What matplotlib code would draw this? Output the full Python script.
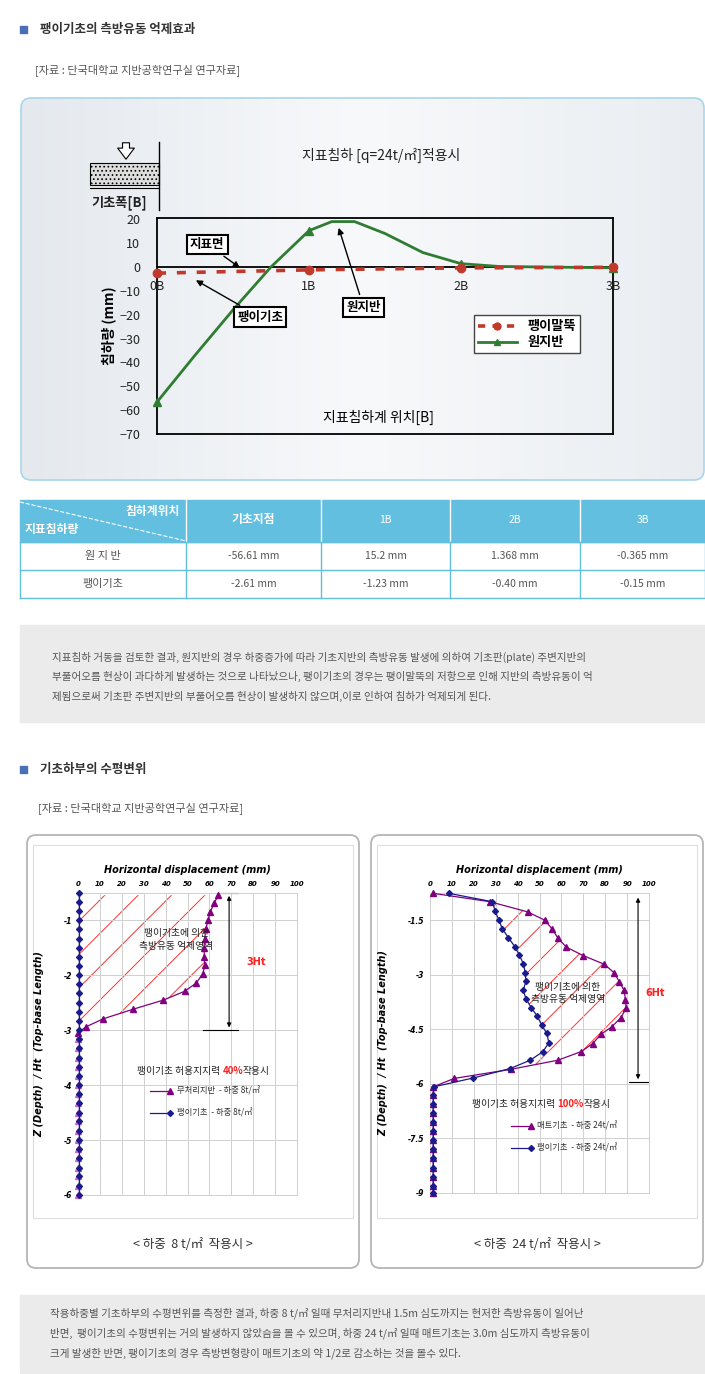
import numpy as np
import matplotlib
matplotlib.use("Agg")
import matplotlib.pyplot as plt
from matplotlib.patches import FancyBboxPatch, Rectangle
from matplotlib.lines import Line2D

plt.rcParams['font.family'] = ['Noto Sans CJK KR', 'DejaVu Sans']
plt.rcParams['hatch.color'] = '#ff3030'
plt.rcParams['hatch.linewidth'] = 0.7

W, H = 705, 1374

# ---------------- data ----------------
top_x_pos = [0, 1, 2, 3]
top_x_labels = ['0B', '1B', '2B', '3B']
orig_curve_x = [0, 0.25, 0.5, 0.75, 1.0, 1.15, 1.3, 1.5, 1.75, 2.0, 2.25, 2.5, 3.0]
orig_curve_y = [-56.61, -37, -18, 0, 15.2, 19, 19, 14, 6, 1.368, 0.2, 0, -0.365]
orig_mark_y = [-56.61, 15.2, 1.368, -0.365]
pile_y = [-2.61, -1.23, -0.40, -0.15]

table_cols = ['기초지점', '1B', '2B', '3B']
table_rows = ['원 지 반', '팽이기초']
table_vals = [['-56.61 mm', '15.2 mm', '1.368 mm', '-0.365 mm'],
              ['-2.61 mm', '-1.23 mm', '-0.40 mm', '-0.15 mm']]

# left lower chart (8 t/m2)
L_untr_x = [64, 62.3, 60.3, 59.4, 58.3, 57.9, 57.5, 57.7, 57.9, 57, 54, 48.7, 39, 24.9, 11.6, 3.5, 0]
L_untr_y = [-0.54, -0.68, -0.85, -1.0, -1.16, -1.33, -1.5, -1.66, -1.82, -1.97, -2.14, -2.29, -2.45, -2.62, -2.79, -2.94, -3.05]
L_deep_y = [-3.16, -3.33, -3.5, -3.66, -3.83, -4.0, -4.16, -4.33, -4.5, -4.66, -4.83, -5.0, -5.16, -5.33, -5.5, -5.66, -5.83, -6.0]
L_pile_y = [-0.5, -0.66, -0.83, -1.0, -1.16, -1.33, -1.5, -1.66, -1.83, -2.0, -2.16, -2.33, -2.5, -2.66, -2.83,
            -3.0, -3.16, -3.33, -3.5, -3.66, -3.83, -4.0, -4.16, -4.33, -4.5, -4.66, -4.83, -5.0, -5.16, -5.33,
            -5.5, -5.66, -5.83, -6.0]
L_pile_x = [0.3] * len(L_pile_y)

# right lower chart (24 t/m2)
R_mat_x = [1.5, 27.4, 44.6, 52.5, 55.9, 58.4, 62.3, 69.9, 79.6, 84.2, 86.5, 88.7, 89.2, 89.6, 87.1, 83, 78.2,
           74.3, 69.1, 58.3, 36.8, 11, 1.5, 1.5, 1.5, 1.5, 1.5, 1.5, 1.5, 1.5, 1.5, 1.5, 1.5, 1.5, 1.5]
R_mat_y = [-0.76, -0.99, -1.27, -1.5, -1.75, -1.99, -2.24, -2.47, -2.71, -2.95, -3.2, -3.43, -3.68, -3.92, -4.18,
           -4.43, -4.63, -4.89, -5.11, -5.35, -5.6, -5.85, -6.08, -6.3, -6.55, -6.8, -7.05, -7.3, -7.55, -7.8,
           -8.05, -8.3, -8.55, -8.8, -9.0]
R_pile_x = [8.7, 28.5, 29.7, 31.5, 33, 35.8, 38.8, 40.8, 42.6, 43.5, 43.8, 42.6, 43.8, 46.3, 49, 51, 53.3, 54.3,
            51.4, 45.7, 36.5, 19.5, 1.8, 1.5, 1.5, 1.5, 1.5, 1.5, 1.5, 1.5, 1.5, 1.5, 1.5, 1.5, 1.5]
R_pile_y = [-0.76, -0.99, -1.24, -1.5, -1.73, -1.98, -2.23, -2.46, -2.69, -2.94, -3.18, -3.42, -3.66, -3.91, -4.14,
            -4.38, -4.61, -4.87, -5.12, -5.35, -5.58, -5.84, -6.08, -6.3, -6.55, -6.8, -7.05, -7.3, -7.55, -7.8,
            -8.05, -8.3, -8.55, -8.8, -9.0]

fig = plt.figure(figsize=(W / 100, H / 100), dpi=100)
fig.patch.set_facecolor('white')


def px(x, y, w, h):
    return [x / W, 1 - (y + h) / H, w / W, h / H]


bg = fig.add_axes([0, 0, 1, 1])
bg.set_xlim(0, W)
bg.set_ylim(H, 0)
bg.axis('off')

TXT = '#555555'


def header(y, text):
    bg.add_patch(Rectangle((20, y - 4), 7, 7, color='#4a6fb5'))
    bg.text(40, y, text, fontsize=9, color='#333333', va='center', fontweight='bold')


header(30, '팽이기초의 측방유동 억제효과')
bg.text(35, 70, '[자료 : 단국대학교 지반공학연구실 연구자료]', fontsize=8, color=TXT, va='center')
header(770, '기초하부의 수평변위')
bg.text(38, 808, '[자료 : 단국대학교 지반공학연구실 연구자료]', fontsize=8, color=TXT, va='center')

# top rounded panel with gradient
panel = FancyBboxPatch((21, 98), 683, 382, boxstyle='round,pad=0,rounding_size=10',
                       facecolor='none', edgecolor='#a9d6ea', lw=1.2, zorder=2)
bg.add_patch(panel)
grad = np.linspace(0, 1, 256).reshape(1, -1)
im = bg.imshow(np.vstack([grad, grad]), extent=[21, 704, 480, 98], aspect='auto',
               cmap=matplotlib.colors.LinearSegmentedColormap.from_list('g', ['#e4e9ee', '#f8f9fb', '#e9edf1']),
               zorder=1)
im.set_clip_path(panel)

# footing sketch
bg.add_patch(Rectangle((90, 163), 69, 22, facecolor='#dddddd', edgecolor='black', lw=0.8, hatch='....', zorder=3))
bg.plot([159, 159], [142, 210], color='black', lw=1, zorder=3)
bg.plot([90, 159], [188, 188], color='black', lw=0.8, zorder=3)
bg.annotate('', xy=(126, 162), xytext=(126, 140), zorder=3,
            arrowprops=dict(arrowstyle='simple,head_width=1.2,head_length=0.8,tail_width=0.5',
                            fc='white', ec='black', lw=0.8))
bg.text(91, 203, '기초폭[B]', fontsize=9.5, fontweight='bold', va='center', zorder=3, color='#222222')
bg.text(381, 155, '지표침하 [q=24t/㎡]적용시', fontsize=10, ha='center', va='center', zorder=3, color='#222222')

# top chart
ax = fig.add_axes(px(157, 218, 456, 216))
ax.set_zorder(3)
ax.set_facecolor('none')
ax.set_xlim(0, 3)
ax.set_ylim(-70, 20.5)
ax.set_yticks(range(-70, 21, 10))
ax.set_yticklabels([str(v).replace('-', '−') for v in range(-70, 21, 10)], fontsize=9, color='#222222')
ax.tick_params(axis='y', length=0, pad=12)
ax.set_xticks([])
for s in ax.spines.values():
    s.set_linewidth(1.3)
ax.axhline(0, color='black', lw=1.3, zorder=1)
ax.plot(orig_curve_x, orig_curve_y, color='#2f7d32', lw=2, zorder=2)
ax.plot(top_x_pos, orig_mark_y, ls='none', marker='^', color='#2f7d32', ms=6, zorder=3, clip_on=False)
ax.plot(top_x_pos, pile_y, color='#c0392b', ls=(0, (2.5, 3)), lw=2.6, marker='o', ms=6, zorder=4, clip_on=False)
for xp, lab in zip(top_x_pos, top_x_labels):
    ax.text(xp, -5.5, lab, ha='center', va='top', fontsize=9, color='#222222')
ax.set_ylabel('침하량 (mm)', fontsize=10, fontweight='bold', labelpad=2)
ax.text(1.46, -63, '지표침하계 위치[B]', fontsize=10, ha='center', va='center')
bbox = dict(boxstyle='square,pad=0.25', fc='white', ec='black', lw=1.5)
ax.annotate('지표면', xy=(0.56, -1), xytext=(0.33, 9.5), fontsize=9, fontweight='bold', ha='center', va='center',
            bbox=bbox, arrowprops=dict(arrowstyle='-|>', color='black', lw=1))
ax.annotate('팽이기초', xy=(0.24, -5), xytext=(0.68, -21), fontsize=9, fontweight='bold', ha='center', va='center',
            bbox=bbox, arrowprops=dict(arrowstyle='-|>', color='black', lw=1))
ax.annotate('원지반', xy=(1.19, 17.5), xytext=(1.36, -17), fontsize=9, fontweight='bold', ha='center', va='center',
            bbox=bbox, arrowprops=dict(arrowstyle='-|>', color='black', lw=1))
handles = [Line2D([], [], color='#c0392b', ls=(0, (2, 2)), lw=2.6, marker='o', ms=5),
           Line2D([], [], color='#2f7d32', lw=2, marker='^', ms=5)]
ax.legend(handles, ['팽이말뚝', '원지반'], loc='upper left', bbox_to_anchor=(0.68, 0.58),
          fancybox=False, edgecolor='#444444', framealpha=1, prop=dict(size=9.5, weight='bold'),
          handlelength=3, borderpad=0.3, labelspacing=0.15)

# table
cols_x = [20, 186, 321, 450, 580, 705]
bg.add_patch(Rectangle((20, 500), 685, 42, color='#62bfe0', zorder=2))
for cx in cols_x[1:-1]:
    bg.plot([cx, cx], [500, 542], color='white', lw=1, zorder=3)
    bg.plot([cx, cx], [542, 598], color='#62bfe0', lw=1, zorder=3)
for yy in [542, 570, 598]:
    bg.plot([20, 705], [yy, yy], color='#62bfe0', lw=1, zorder=3)
bg.plot([20, 20], [542, 598], color='#62bfe0', lw=1, zorder=3)
bg.plot([704.5, 704.5], [542, 598], color='#62bfe0', lw=1, zorder=3)
bg.plot([20, 186], [502, 541], color='white', lw=0.8, ls='--', zorder=3)
bg.text(180, 511, '침하계위치', color='white', fontsize=8.5, fontweight='bold', ha='right', va='center', zorder=4)
bg.text(25, 530, '지표침하량', color='white', fontsize=8.5, fontweight='bold', ha='left', va='center', zorder=4)
for i, c in enumerate(table_cols):
    cx = (cols_x[i + 1] + cols_x[i + 2]) / 2
    bg.text(cx, 520, c, color='white', fontsize=8.5 if i == 0 else 7.5, fontweight='bold' if i == 0 else 'normal',
            ha='center', va='center', zorder=4)
for r, (rn, vals) in enumerate(zip(table_rows, table_vals)):
    cy = 556 + 28 * r
    bg.text(103, cy, rn, color=TXT, fontsize=8, ha='center', va='center', zorder=4)
    for i, v in enumerate(vals):
        cx = (cols_x[i + 1] + cols_x[i + 2]) / 2
        bg.text(cx, cy, v, color=TXT, fontsize=7.5, ha='center', va='center', zorder=4)

# grey text boxes
bg.add_patch(Rectangle((20, 625), 685, 97, color='#ebebeb', zorder=1))
lines1 = ['지표침하 거동을 검토한 결과, 원지반의 경우 하중증가에 따라 기초지반의 측방유동 발생에 의하여 기초판(plate) 주변지반의',
          '부풀어오름 현상이 과다하게 발생하는 것으로 나타났으나, 팽이기초의 경우는 팽이말뚝의 저항으로 인해 지반의 측방유동이 억',
          '제됨으로써 기초판 주변지반의 부풀어오름 현상이 발생하지 않으며,이로 인하여 침하가 억제되게 된다.']
for i, t in enumerate(lines1):
    bg.text(52, 657 + 19.5 * i, t, fontsize=7.6, color=TXT, va='center', zorder=2)
bg.add_patch(Rectangle((20, 1295), 685, 78, color='#ebebeb', zorder=1))
lines2 = ['작용하중별 기초하부의 수평변위를 측정한 결과, 하중 8 t/㎡ 일때 무처리지반내 1.5m 심도까지는 현저한 측방유동이 일어난',
          '반면,  팽이기초의 수평변위는 거의 발생하지 않았슴을 볼 수 있으며, 하중 24 t/㎡ 일때 매트기초는 3.0m 심도까지 측방유동이',
          '크게 발생한 반면, 팽이기초의 경우 측방변형량이 매트기초의 약 1/2로 감소하는 것을 볼수 있다.']
for i, t in enumerate(lines2):
    bg.text(50, 1313 + 20 * i, t, fontsize=7.6, color=TXT, va='center', zorder=2)

# lower panels
for x0, cap in [(27, '< 하중  8 t/㎡  작용시 >'), (371, '< 하중  24 t/㎡  작용시 >')]:
    bg.add_patch(FancyBboxPatch((x0, 835), 332, 433, boxstyle='round,pad=0,rounding_size=9',
                                facecolor='white', edgecolor='#b5b5b5', lw=1.3, zorder=1))
    bg.text(x0 + 166, 1244, cap, fontsize=9, ha='center', va='center', color='#333333', zorder=2)
    bg.add_patch(Rectangle((x0 + 6, 845), 320, 373, facecolor='white', edgecolor='#dddddd', lw=0.8, zorder=1.5))

PUR = '#800080'
BLU = '#1a1a8c'


def lower_axes(rect, ylim, yticks, ytl):
    a = fig.add_axes(px(*rect))
    a.set_zorder(3)
    a.set_xlim(0, 100)
    a.set_ylim(*ylim)
    a.xaxis.tick_top()
    a.set_xticks(range(0, 101, 10))
    a.set_xticklabels([str(v) for v in range(0, 101, 10)], fontsize=5, fontweight='bold', fontstyle='italic',
                      family='DejaVu Sans')
    a.set_yticks(yticks)
    a.set_yticklabels(ytl, fontsize=5.5, fontweight='bold', fontstyle='italic', family='DejaVu Sans')
    a.tick_params(length=0, pad=4)
    a.grid(True, color='#d0d0d0', lw=0.7)
    for s in a.spines.values():
        s.set_color('#d0d0d0')
        s.set_linewidth(0.7)
    a.set_xlabel('Horizontal displacement (mm)', fontsize=7, fontweight='bold', fontstyle='italic',
                 family='DejaVu Sans', labelpad=6)
    a.xaxis.set_label_position('top')
    a.set_ylabel('Z (Depth)  / Ht  (Top-base Length)', fontsize=7, fontweight='bold', fontstyle='italic',
                 family='DejaVu Sans', labelpad=14)
    return a


def rich(a, x, y, parts):
    t = a.text(x, y, parts[0][0], fontsize=7, va='center', color=parts[0][1], fontweight=parts[0][2])
    for s, c, w in parts[1:]:
        t = a.annotate(s, xy=(1, 0.5), xycoords=t, va='center', ha='left', fontsize=7, color=c, fontweight=w)


# left lower chart
a1 = lower_axes((78, 893, 219, 302), (-6, -0.5), [-1, -2, -3, -4, -5, -6], ['-1', '-2', '-3', '-4', '-5', '-6'])
a1.fill_betweenx(L_untr_y, 0, L_untr_x, facecolor='none', edgecolor='#ff3030', lw=0, hatch='/', zorder=1)
a1.plot(L_untr_x, L_untr_y, color=PUR, lw=0.9, marker='^', ms=4.5, zorder=3, clip_on=False)
a1.plot([0] * len(L_deep_y), L_deep_y, ls='none', color='#cc66cc', marker='^', ms=4, zorder=3, clip_on=False)
a1.plot(L_pile_x, L_pile_y, color=BLU, lw=0.9, marker='D', ms=3, zorder=4, clip_on=False)
a1.annotate('', xy=(69, -0.5), xytext=(69, -3.0),
            arrowprops=dict(arrowstyle='<|-|>', color='black', lw=0.8, mutation_scale=6))
a1.plot([65, 73], [-0.5, -0.5], color='black', lw=0.8, clip_on=False)
a1.plot([57, 73], [-3.0, -3.0], color='black', lw=0.8)
a1.text(77, -1.75, '3Ht', color='#ff2020', fontsize=7, fontweight='bold', family='DejaVu Sans', va='center')
a1.text(45, -1.35, '팽이기초에 의한\n측방유동 억제영역', fontsize=7, ha='center', va='center', color='#222222',
        linespacing=1.3)
rich(a1, 27, -3.75, [('팽이기초 허용지지력 ', '#222222', 'normal'), ('40%', '#ff2020', 'bold'),
                     ('작용시', '#222222', 'normal')])
a1.plot([33, 42], [-4.1, -4.1], color=PUR, lw=0.9, marker='^', ms=4.5, markevery=[1])
a1.text(45, -4.1, '무처리지반  - 하중 8t/㎡', fontsize=6, va='center', color='#333333')
a1.plot([33, 42], [-4.5, -4.5], color=BLU, lw=0.9, marker='D', ms=3, markevery=[1])
a1.text(45, -4.5, '팽이기초  - 하중 8t/㎡', fontsize=6, va='center', color='#333333')

# right lower chart
a2 = lower_axes((430, 893, 219, 300), (-9, -0.75), [-1.5, -3, -4.5, -6, -7.5, -9],
                ['-1.5', '-3', '-4.5', '-6', '-7.5', '-9'])
my = np.array(R_mat_y[1:21])
mx = np.array(R_mat_x[1:21])
bx = np.interp(-my, -np.array(R_pile_y), np.array(R_pile_x))
a2.fill_betweenx(my, bx, mx, facecolor='none', edgecolor='#ff3030', lw=0, hatch='/', zorder=1)
a2.plot(R_mat_x, R_mat_y, color=PUR, lw=0.9, marker='^', ms=4.5, zorder=3, clip_on=False)
a2.plot(R_pile_x, R_pile_y, color=BLU, lw=0.9, marker='D', ms=3, zorder=4, clip_on=False)
a2.annotate('', xy=(95, -0.8), xytext=(95, -5.95),
            arrowprops=dict(arrowstyle='<|-|>', color='black', lw=0.8, mutation_scale=6))
a2.plot([91, 100], [-5.95, -5.95], color='black', lw=0.8, clip_on=False)
a2.text(98.5, -3.5, '6Ht', color='#ff2020', fontsize=7, fontweight='bold', family='DejaVu Sans', va='center',
        clip_on=False)
a2.text(63, -3.5, '팽이기초에 의한\n측방유동 억제영역', fontsize=7, ha='center', va='center', color='#222222',
        linespacing=1.3)
rich(a2, 19, -6.55, [('팽이기초 허용지지력 ', '#222222', 'normal'), ('100%', '#ff2020', 'bold'),
                     ('작용시', '#222222', 'normal')])
a2.plot([37, 46], [-7.15, -7.15], color=PUR, lw=0.9, marker='^', ms=4.5, markevery=[1])
a2.text(49, -7.15, '매트기초  - 하중 24t/㎡', fontsize=6, va='center', color='#333333')
a2.plot([37, 46], [-7.75, -7.75], color=BLU, lw=0.9, marker='D', ms=3, markevery=[1])
a2.text(49, -7.75, '팽이기초  - 하중 24t/㎡', fontsize=6, va='center', color='#333333')

fig.savefig('out.png', dpi=100)
